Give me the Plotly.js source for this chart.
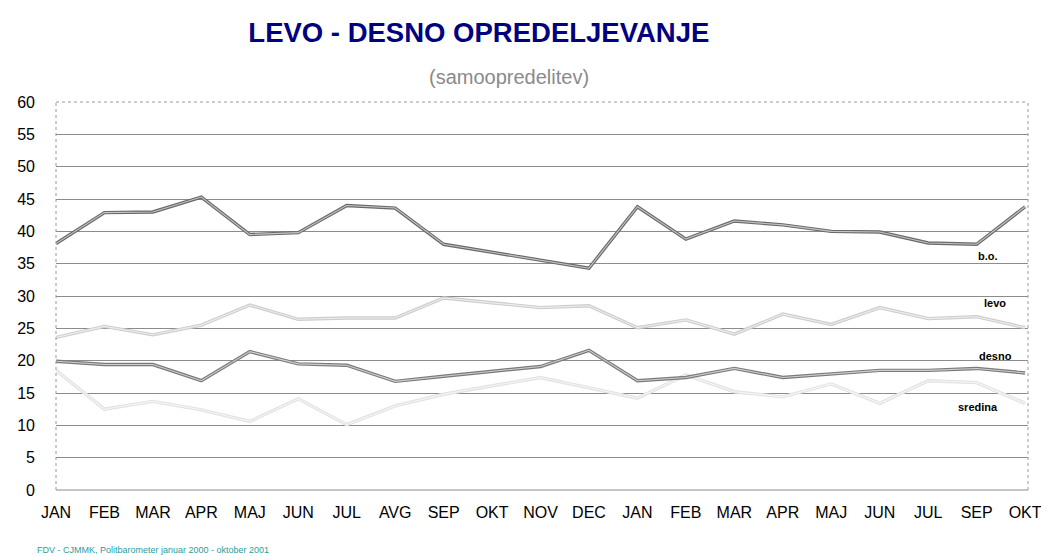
<!DOCTYPE html>
<html>
<head>
<meta charset="utf-8">
<script src="https://cdn.plot.ly/plotly-3.0.1.min.js"></script>
<style>html,body{margin:0;padding:0;background:#fff;}#chart{width:1041px;height:556px;}</style>
</head>
<body>
<div id="chart"></div>
<script>
// Months: Jan 2000 – Oct 2001 (Aug 2001 missing in source)
const monthLabels = ["JAN","FEB","MAR","APR","MAJ","JUN","JUL","AVG","SEP","OKT","NOV","DEC",
                     "JAN","FEB","MAR","APR","MAJ","JUN","JUL","SEP","OKT"];
const bo      = [38.1,42.9,43.0,45.3,39.5,39.8,44.0,43.6,38.0,36.8,35.5,34.3,43.8,38.8,41.6,41.0,40.0,39.9,38.2,38.0,43.8];
const levo    = [23.6,25.3,24.0,25.5,28.6,26.4,26.6,26.6,29.7,29.0,28.2,28.5,25.1,26.3,24.1,27.2,25.6,28.2,26.5,26.8,25.1];
const desno   = [19.9,19.4,19.4,16.9,21.4,19.5,19.3,16.8,17.6,18.4,19.1,21.6,16.9,17.4,18.8,17.4,18.0,18.5,18.5,18.8,18.1];
const sredina = [18.5,12.5,13.7,12.4,10.6,14.1,10.1,13.0,14.8,16.1,17.4,15.8,14.2,17.8,15.2,14.4,16.4,13.4,16.9,16.6,13.4];
const yTicks  = [0,5,10,15,20,25,30,35,40,45,50,55,60];

const xIdx = monthLabels.map((_, i) => i);
const FONT = "Liberation Sans, Arial, sans-serif";

function dbl(y, outer, inner) {
  return [
    {x: xIdx, y: y, type: "scatter", mode: "lines", line: {color: outer, width: 3.4}, hoverinfo: "skip", showlegend: false},
    {x: xIdx, y: y, type: "scatter", mode: "lines", line: {color: inner, width: 1.1}, hoverinfo: "skip", showlegend: false}
  ];
}

const data = [].concat(
  dbl(sredina, "#e2e2e2", "#f6f6f6"),
  dbl(levo,    "#cdcdcd", "#ededed"),
  dbl(desno,   "#7a7a7a", "#cfcfcf"),
  dbl(bo,      "#6a6a6a", "#c4c4c4")
);

const layout = {
  width: 1041, height: 556,
  margin: {l: 56, r: 13, t: 102, b: 66},
  paper_bgcolor: "#ffffff", plot_bgcolor: "#ffffff",
  font: {family: FONT, color: "#000"},
  title: {
    text: "<b>LEVO - DESNO OPREDELJEVANJE</b>",
    font: {family: FONT, size: 27.5, color: "#000080"},
    x: 0.460, xanchor: "center", xref: "container",
    y: 0.942, yanchor: "middle", yref: "container"
  },
  xaxis: {
    range: [0, 20.06],
    tickmode: "array", tickvals: xIdx, ticktext: monthLabels,
    showgrid: false, zeroline: false, showline: false, ticks: "",
    tickfont: {family: FONT, size: 16, color: "#000"},
    ticklabelstandoff: 11,
    ticklabeloverflow: "allow"
  },
  yaxis: {
    range: [0, 60],
    tickmode: "array", tickvals: yTicks,
    showgrid: true, gridcolor: "#8c8c8c", gridwidth: 1,
    zeroline: false, showline: false, ticks: "",
    tickfont: {family: FONT, size: 16, color: "#000"},
    ticklabelstandoff: 20
  },
  shapes: [
    {type: "line", xref: "paper", yref: "paper", x0: 0, x1: 1, y0: 1, y1: 1, line: {color: "#9a9a9a", width: 1, dash: "dot"}},
    {type: "line", xref: "paper", yref: "paper", x0: 0, x1: 0, y0: 0, y1: 1, line: {color: "#9a9a9a", width: 1, dash: "dot"}},
    {type: "line", xref: "paper", yref: "paper", x0: 1, x1: 1, y0: 0, y1: 1, line: {color: "#9a9a9a", width: 1, dash: "dot"}},
    {type: "line", xref: "paper", yref: "paper", x0: 0, x1: 1, y0: 0, y1: 0, line: {color: "#8c8c8c", width: 1}}
  ],
  annotations: [
    {text: "(samoopredelitev)", xref: "paper", yref: "paper", x: 0.466, y: 1.064, xanchor: "center", yanchor: "middle",
     showarrow: false, font: {family: FONT, size: 20, color: "#8a8a8a"}},
    {text: "<b>b.o.</b>", xref: "x", yref: "y", x: 19.24, y: 36.2, xanchor: "center", yanchor: "middle",
     showarrow: false, font: {family: FONT, size: 11, color: "#000"}},
    {text: "<b>levo</b>", xref: "x", yref: "y", x: 19.38, y: 28.9, xanchor: "center", yanchor: "middle",
     showarrow: false, font: {family: FONT, size: 11, color: "#000"}},
    {text: "<b>desno</b>", xref: "x", yref: "y", x: 19.38, y: 20.7, xanchor: "center", yanchor: "middle",
     showarrow: false, font: {family: FONT, size: 11, color: "#000"}},
    {text: "<b>sredina</b>", xref: "x", yref: "y", x: 19.03, y: 12.8, xanchor: "center", yanchor: "middle",
     showarrow: false, font: {family: FONT, size: 11, color: "#000"}},
    {text: "FDV - CJMMK, Politbarometer januar 2000 - oktober 2001", xref: "paper", yref: "paper",
     x: -0.0216, y: -0.155, xanchor: "left", yanchor: "middle",
     showarrow: false, font: {family: FONT, size: 9, color: "#2e9b9b"}}
  ]
};

Plotly.newPlot("chart", data, layout, {displayModeBar: false, staticPlot: true});
</script>
</body>
</html>
